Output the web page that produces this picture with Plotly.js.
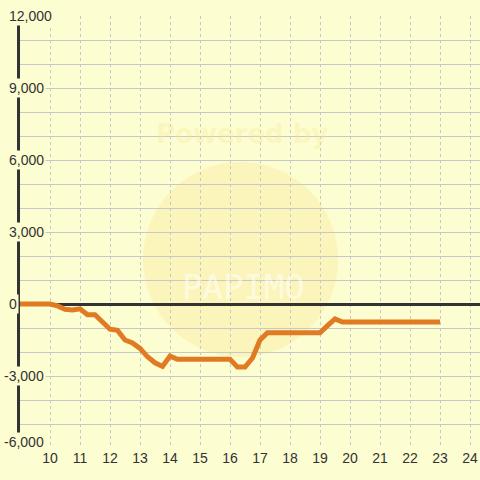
<!DOCTYPE html>
<html>
<head>
<meta charset="utf-8">
<script src="https://cdn.plot.ly/plotly-3.0.1.min.js"></script>
<style>html,body{margin:0;padding:0;background:#fdfdd2;}#chart{width:480px;height:480px;}</style>
</head>
<body>
<div id="chart"></div>
<script>
// Hours of the day
const hours = [9, 10, 10.25, 10.5, 10.75, 11, 11.25, 11.5, 11.75, 12, 12.25, 12.5, 12.75, 13, 13.25, 13.5, 13.75, 14, 14.25, 14.5, 14.75, 15, 15.25, 15.5, 15.75, 16, 16.25, 16.5, 16.75, 17, 17.25, 17.5, 17.75, 18, 18.25, 18.5, 18.75, 19, 19.25, 19.5, 19.75, 20, 20.25, 20.5, 20.75, 21, 21.25, 21.5, 21.75, 22, 22.25, 22.5, 22.75, 23];
// Cumulative value
const values = [0, 0, -80, -220, -250, -200, -450, -450, -750, -1050, -1100, -1500, -1620, -1850, -2200, -2450, -2600, -2170, -2300, -2300, -2300, -2300, -2300, -2300, -2300, -2300, -2630, -2630, -2250, -1500, -1200, -1200, -1200, -1200, -1200, -1200, -1200, -1200, -900, -620, -750, -750, -750, -750, -750, -750, -750, -750, -750, -750, -750, -750, -750, -750];
// Axis ticks
const xTicks = [10, 11, 12, 13, 14, 15, 16, 17, 18, 19, 20, 21, 22, 23, 24];
const yTickVals = [12000, 9000, 6000, 3000, 0, -3000, -6000];
const yTickText = ["12,000", "9,000", "6,000", "3,000", "0", "-3,000", "-6,000"];

const bg = '#fdfdd2';
const plotLeft = 20, plotWidth = 460;
const tickFont = {family: 'Liberation Sans, Arial, sans-serif', size: 14, color: '#333'};
const yMin = Math.min(...yTickVals);

const annotations = yTickVals.map((v, i) => ({
  xref: 'paper', yref: 'y',
  x: (7 - plotLeft) / plotWidth, y: v,
  xanchor: 'left', yanchor: 'middle',
  xshift: v < 0 ? -5 : 0,
  yshift: v === yMin ? 6 : 0,
  text: yTickText[i], showarrow: false,
  bgcolor: bg, borderpad: 1,
  font: tickFont
}));
annotations.push({
  xref: 'paper', yref: 'paper', x: (242 - plotLeft) / plotWidth, y: (448 - 134) / 432,
  xanchor: 'center', yanchor: 'middle', showarrow: false,
  text: '<b>Powered by</b>', font: {family: 'DejaVu Sans, sans-serif', size: 26, color: 'rgba(245,232,140,0.3)'}
});
annotations.push({
  xref: 'paper', yref: 'paper', x: (243 - plotLeft) / plotWidth, y: (448 - 287) / 432,
  xanchor: 'center', yanchor: 'middle', showarrow: false,
  text: 'PAPIMO', font: {family: 'DejaVu Sans Mono, monospace', size: 34, color: 'rgba(255,255,255,0.5)'}
});

const data = [{
  x: hours, y: values, type: 'scatter', mode: 'lines',
  line: {color: '#e07b24', width: 5}, hoverinfo: 'skip'
}];

const layout = {
  width: 480, height: 480,
  margin: {l: 20, r: 0, t: 16, b: 32},
  paper_bgcolor: bg, plot_bgcolor: bg,
  showlegend: false,
  xaxis: {
    range: [9, 9 + plotWidth / 30],
    tickvals: xTicks, ticktext: xTicks.map(String),
    showgrid: true, gridcolor: '#c8c8c8', griddash: 'dot', gridwidth: 1,
    zeroline: false, showline: false, ticks: '',
    tickfont: tickFont
  },
  yaxis: {
    range: [-6000, 12000], dtick: 1000, tick0: 0,
    showgrid: true, gridcolor: '#c8c8c8', gridwidth: 1,
    zeroline: true, zerolinecolor: '#333', zerolinewidth: 3,
    showline: true, linecolor: '#333', linewidth: 3,
    showticklabels: false, ticks: ''
  },
  shapes: [{
    type: 'circle', xref: 'paper', yref: 'paper', layer: 'below',
    x0: (143 - plotLeft) / plotWidth, x1: (338 - plotLeft) / plotWidth,
    y0: (448 - 357) / 432, y1: (448 - 162) / 432,
    fillcolor: 'rgba(250,225,120,0.25)', line: {width: 0}
  }],
  annotations: annotations
};

Plotly.newPlot('chart', data, layout, {staticPlot: true, displayModeBar: false});
</script>
</body>
</html>
